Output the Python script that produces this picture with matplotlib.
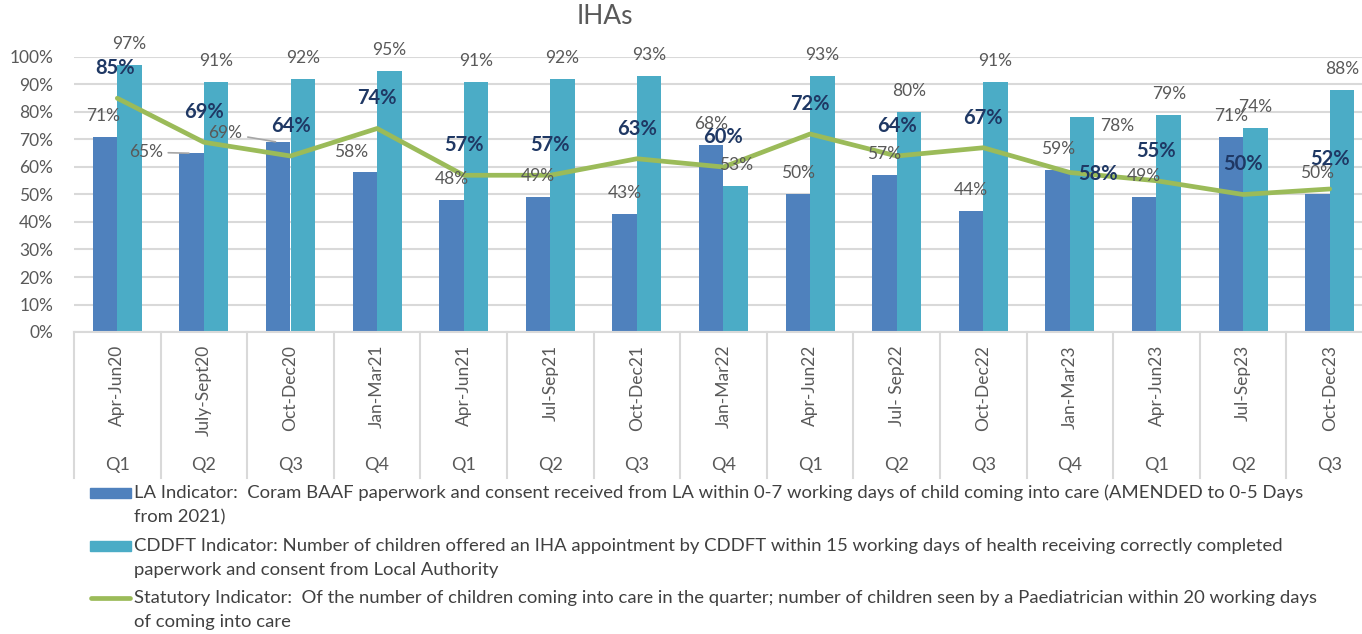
import matplotlib
matplotlib.use("Agg")
import matplotlib.pyplot as plt
from matplotlib.patches import Rectangle
from matplotlib.lines import Line2D

# ---------------- data ----------------
periods = ["Apr-Jun20", "July-Sept20", "Oct-Dec20", "Jan-Mar21", "Apr-Jun21", "Jul-Sep21",
           "Oct-Dec21", "Jan-Mar22", "Apr-Jun22", "Jul- Sep22", "Oct-Dec22", "Jan-Mar23",
           "Apr-Jun23", "Jul-Sep23", "Oct-Dec23"]
quarters = ["Q1", "Q2", "Q3", "Q4", "Q1", "Q2", "Q3", "Q4", "Q1", "Q2", "Q3", "Q4", "Q1", "Q2", "Q3"]
la_values = [71, 65, 69, 58, 48, 49, 43, 68, 50, 57, 44, 59, 49, 71, 50]
cddft_values = [97, 91, 92, 95, 91, 92, 93, 53, 93, 80, 91, 78, 79, 74, 88]
statutory_values = [85, 69, 64, 74, 57, 57, 63, 60, 72, 64, 67, 58, 55, 50, 52]
yticks = [0, 10, 20, 30, 40, 50, 60, 70, 80, 90, 100]

la_label = ["LA Indicator:  Coram BAAF paperwork and consent received from LA within 0-7 working days of child coming into care (AMENDED to 0-5 Days",
            "from 2021)"]
cddft_label = ["CDDFT Indicator: Number of children offered an IHA appointment by CDDFT within 15 working days of health receiving correctly completed",
               "paperwork and consent from Local Authority"]
stat_label = ["Statutory Indicator:  Of the number of children coming into care in the quarter; number of children seen by a Paediatrician within 20 working days",
              "of coming into care"]
title = "IHAs"

# ---------------- label offsets (pixels) ----------------
la_offsets = {1: (-46, 1, True), 2: (-53, 9, True), 3: (-14, 20, False), 0: (-2, 21, False)}
cddft_offsets = {11: (35, -8.5, False)}
stat_offsets = {11: (28, -1.5, False), 0: (-2, 30, False)}

# ---------------- style ----------------
FONT = "Lato"
C_LA = "#4F81BD"
C_CD = "#4BACC6"
C_ST = "#9BBB59"
C_TXT = "#595959"
C_BOLD = "#1F3864"
C_GRID = "#D9D9D9"

W, H = 1362, 634
fig = plt.figure(figsize=(W / 100, H / 100), dpi=100)
plt.rcParams["font.family"] = [FONT, "DejaVu Sans"]

left_px, right_px, top_px, bot_px = 74, 1362, 57, 332
cat_w = 86.6
ax = fig.add_axes([left_px / W, 1 - bot_px / H, (right_px - left_px) / W, (bot_px - top_px) / H])
n = len(periods)
x = list(range(n))
ax.set_xlim(-0.5, -0.5 + (right_px - left_px) / cat_w)
ax.set_ylim(0, 100)

bw = 0.283
ax.bar([i - bw / 2 for i in x], la_values, width=bw, color=C_LA, zorder=2)
ax.bar([i + bw / 2 for i in x], cddft_values, width=bw, color=C_CD, zorder=2)
ax.plot(x, statutory_values, color=C_ST, lw=3.4, zorder=3, solid_capstyle="round", clip_on=False)

ax.set_yticks(yticks)
ax.set_yticklabels([f"{v}%" for v in yticks])
ax.tick_params(axis="y", length=0, pad=15, labelsize=12.5, labelcolor=C_TXT)
ax.set_xticks([])
ax.grid(axis="y", color=C_GRID, lw=1.5, zorder=0)
ax.set_axisbelow(True)
for s in ["top", "right", "left"]:
    ax.spines[s].set_visible(False)
ax.spines["bottom"].set_color(C_GRID)
ax.spines["bottom"].set_linewidth(1.5)

# data labels
def put(val, xc, offs, default, color, bold, size):
    dx, dy, leader = offs if offs else (0, default, False)
    kw = dict(xy=(xc, val), xytext=(dx, dy), textcoords="offset pixels",
              ha="center", va="center", color=color, fontsize=size, zorder=5,
              fontweight="bold" if bold else "normal", annotation_clip=False)
    if leader:
        kw["arrowprops"] = dict(arrowstyle="-", color="#A6A6A6", lw=1.2, shrinkA=2, shrinkB=2)
    ax.annotate(f"{val}%", **kw)

for i in x:
    put(la_values[i], i - bw / 2, la_offsets.get(i), 21, C_TXT, False, 12.5)
    put(cddft_values[i], i + bw / 2, cddft_offsets.get(i), 21, C_TXT, False, 12.5)
    put(statutory_values[i], i, stat_offsets.get(i), 30, C_BOLD, True, 14.5)

# category axis (two levels)
xt = ax.get_xaxis_transform()
sep_bottom = (bot_px - 478) / (bot_px - top_px)
for k in range(n + 1):
    ax.plot([k - 0.5, k - 0.5], [0, sep_bottom], transform=xt, color=C_GRID, lw=1.5, clip_on=False)
for i in x:
    ax.text(i, (bot_px - 345) / (bot_px - top_px), periods[i], transform=xt, rotation=90,
            ha="center", va="top", fontsize=12.5, color=C_TXT, clip_on=False)
    ax.text(i, (bot_px - 465) / (bot_px - top_px), quarters[i], transform=xt,
            ha="center", va="center", fontsize=13, color=C_TXT, clip_on=False)

# title
fig.text(605 / W, 1 - 17 / H, title, ha="center", va="center", fontsize=19, color=C_TXT)

# legend (manual)
def fy(p):
    return 1 - p / H
fig.patches.append(Rectangle((90 / W, fy(498)), 41 / W, 10 / H, transform=fig.transFigure,
                             color=C_LA, figure=fig))
fig.patches.append(Rectangle((90 / W, fy(551)), 41 / W, 10 / H, transform=fig.transFigure,
                             color=C_CD, figure=fig))
fig.lines.append(Line2D([91 / W, 130 / W], [fy(598), fy(598)], transform=fig.transFigure,
                        color=C_ST, lw=3.4, solid_capstyle="round", figure=fig))
for lab, yc in [(la_label, 493), (cddft_label, 546), (stat_label, 598)]:
    for j, line in enumerate(lab):
        fig.text(134 / W, fy(yc + 24 * j), line, ha="left", va="center", fontsize=13.3,
                 color="#404040")

fig.savefig("out.png", dpi=100)
